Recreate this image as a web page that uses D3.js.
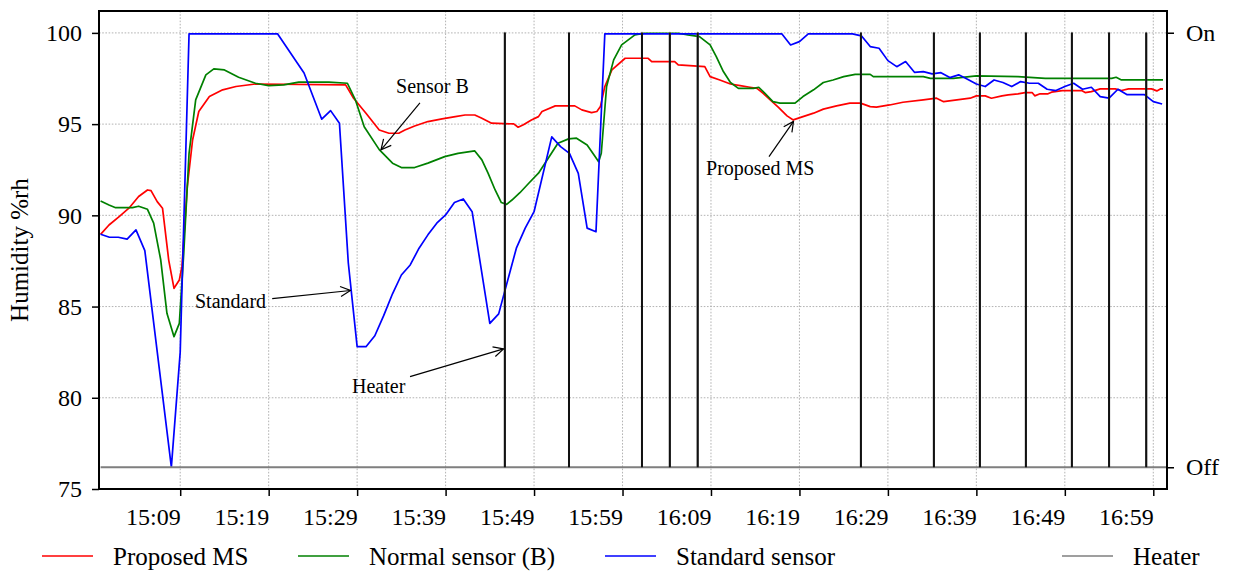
<!DOCTYPE html>
<html>
<head>
<meta charset="utf-8">
<script src="https://cdn.jsdelivr.net/npm/d3@7"></script>
<style>
  html, body { margin: 0; padding: 0; background: #fff; }
  svg { display: block; font-family: "Liberation Serif", "Times New Roman", Times, serif; }
</style>
</head>
<body>
<svg id="chart" width="1234" height="572"></svg>
<script>
// Times are minutes after 15:00; humidity in %rh.
const xTickLabels = ["15:09", "15:19", "15:29", "15:39", "15:49", "15:59", "16:09", "16:19", "16:29", "16:39", "16:49", "16:59"];
const yTickValues = [75, 80, 85, 90, 95, 100];
const heaterStates = ["Off", "On"];
const seriesNames = ["Proposed MS", "Normal sensor (B)", "Standard sensor", "Heater"];

const proposedMS = [
  [0, 88.96], [0.95, 89.47], [2.1, 89.93], [3.2, 90.39], [4.3, 91.03], [5.3, 91.39], [5.7, 91.35], [6.4, 90.75],
  [7.0, 90.39], [7.7, 87.55], [8.3, 86.0], [8.9, 86.46], [9.2, 87.2], [9.8, 91.57], [10.4, 94.13], [11.1, 95.69],
  [12.3, 96.51], [13.8, 96.88], [15.3, 97.06], [17.5, 97.2], [27.7, 97.15], [28.6, 96.42], [30.0, 95.6], [31.5, 94.68],
  [32.6, 94.5], [33.7, 94.5], [34.4, 94.68], [35.5, 94.9], [37.0, 95.14], [38.6, 95.29], [40.1, 95.41], [41.2, 95.5],
  [42.3, 95.5], [43.1, 95.32], [44.2, 95.05], [46.7, 95.01], [47.2, 94.83], [47.8, 94.96], [48.7, 95.23], [49.5, 95.41],
  [49.9, 95.69], [51.4, 96.0], [53.6, 96.0], [54.4, 95.78], [55.5, 95.63], [56.1, 95.69], [56.5, 95.96], [57.0, 97.06],
  [57.8, 97.97], [59.3, 98.61], [61.9, 98.61], [62.3, 98.43], [64.9, 98.43], [65.3, 98.25], [68.3, 98.15], [68.9, 97.6],
  [70.0, 97.42], [71.2, 97.2], [72.3, 97.11], [73.4, 97.02], [74.2, 96.96], [74.9, 96.69], [75.7, 96.33], [76.6, 95.93],
  [77.6, 95.45], [78.3, 95.23], [79.4, 95.41], [80.6, 95.6], [81.7, 95.82], [83.2, 96.0], [84.7, 96.15], [85.9, 96.15],
  [87.0, 95.96], [87.7, 95.93], [89.2, 96.05], [90.7, 96.2], [93.0, 96.33], [94.5, 96.42], [95.3, 96.23], [96.8, 96.33],
  [98.3, 96.42], [99.0, 96.55], [100.0, 96.55], [100.7, 96.42], [101.9, 96.55], [102.6, 96.6], [103.7, 96.66], [104.5, 96.73],
  [105.3, 96.73], [105.6, 96.55], [106.2, 96.66], [107.1, 96.66], [107.5, 96.75], [108.7, 96.84], [110.9, 96.84], [111.3, 96.73],
  [112.0, 96.78], [113.0, 96.93], [114.7, 96.93], [115.4, 96.84], [116.2, 96.93], [118.8, 96.93], [119.4, 96.82], [119.8, 96.93],
  [120.1, 96.93]
];

const normalSensorB = [
  [0, 90.79], [0.95, 90.57], [1.7, 90.42], [3.6, 90.42], [4.3, 90.5], [5.3, 90.33], [6.0, 89.57], [6.8, 87.55],
  [7.5, 84.63], [8.3, 83.35], [8.9, 84.08], [9.4, 87.92], [10.0, 93.4], [10.75, 96.33], [11.9, 97.7], [12.8, 98.03],
  [14.0, 97.97], [15.6, 97.57], [17.5, 97.24], [19.0, 97.11], [20.7, 97.15], [22.4, 97.3], [25.8, 97.3], [27.9, 97.24],
  [28.8, 96.33], [29.8, 94.86], [31.5, 93.6], [33.0, 92.86], [34.0, 92.62], [35.5, 92.62], [37.0, 92.86], [38.9, 93.22],
  [40.4, 93.4], [42.3, 93.53], [43.1, 93.04], [43.8, 92.31], [44.6, 91.39], [45.3, 90.7], [45.9, 90.6], [46.5, 90.84],
  [47.4, 91.24], [48.4, 91.76], [49.5, 92.31], [50.6, 93.13], [51.7, 93.95], [52.9, 94.19], [53.8, 94.23], [55.0, 93.86],
  [55.9, 93.22], [56.3, 92.94], [56.6, 93.4], [57.2, 97.06], [58.0, 98.52], [58.9, 99.34], [60.4, 99.89], [61.5, 99.98],
  [65.3, 99.98], [66.4, 99.89], [67.7, 99.8], [68.9, 99.34], [69.6, 98.7], [70.4, 97.88], [71.2, 97.28], [72.1, 96.96],
  [73.8, 96.96], [74.4, 97.02], [75.1, 96.69], [76.0, 96.23], [76.8, 96.15], [78.5, 96.15], [79.4, 96.51], [80.6, 96.88],
  [81.7, 97.28], [82.8, 97.42], [84.0, 97.6], [85.3, 97.73], [87.0, 97.73], [87.35, 97.6], [93.0, 97.6], [93.8, 97.51],
  [96.4, 97.51], [99.0, 97.64], [103.7, 97.6], [106.8, 97.51], [114.3, 97.51], [114.8, 97.57], [115.4, 97.42], [120.1, 97.42]
];

const standardSensor = [
  [0, 88.96], [1, 88.8], [2, 88.8], [3, 88.7], [4, 89.2], [5, 88.07], [8, 76.2], [9, 82.5], [10, 99.95], [20, 99.95],
  [23, 97.8], [25, 95.27], [26, 95.74], [27, 95.05], [28, 87.4], [29, 82.8], [30, 82.8], [31, 83.4], [32, 84.5], [33, 85.7],
  [34, 86.73], [35, 87.28], [36, 88.2], [37, 88.93], [38, 89.57], [39, 90.02], [40, 90.7], [41, 90.9], [42, 90.2], [44, 84.08],
  [45, 84.6], [47, 88.2], [48, 89.3], [49, 90.2], [51, 94.3], [52, 93.77], [53, 93.4], [54, 92.3], [55, 89.3], [56, 89.1],
  [57, 99.95], [77, 99.95], [78, 99.34], [79, 99.52], [80, 99.95], [85, 99.95], [86, 99.84], [87, 99.25], [88, 99.16], [89, 98.48],
  [90, 98.15], [91, 98.43], [92, 97.84], [93, 97.88], [94, 97.75], [95, 97.82], [96, 97.55], [97, 97.7], [98, 97.46], [99, 97.2],
  [100, 97.06], [101, 97.42], [102, 97.28], [103, 97.06], [104, 97.33], [105, 97.24], [106, 97.24], [107, 96.91], [108, 96.84], [109, 97.06],
  [110, 97.24], [111, 96.91], [112, 97.02], [113, 96.51], [114, 96.42], [115, 96.91], [116, 96.62], [118, 96.62], [119, 96.23], [120, 96.1]
];

// Moments the heater pulse was switched on (minutes after 15:00)
const heaterOnTimes = [45.7, 52.95, 61.2, 64.35, 67.5, 85.95, 94.2, 99.4, 104.6, 109.8, 114.0, 118.2];
const heaterSpan = [0, 120.5];

// Annotation callouts: label, text anchor (time, %rh), arrow tail, arrow head
const callouts = [
  { label: "Sensor B",    text: [33.4, 96.68], tail: [36.1, 96.16], head: [31.7, 93.59] },
  { label: "Standard",    text: [10.67, 84.92], tail: [19.4, 85.44], head: [28.25, 85.88] },
  { label: "Heater",      text: [28.42, 80.26], tail: [34.98, 81.16], head: [45.55, 82.68] },
  { label: "Proposed MS", text: [68.44, 92.21], tail: [75.56, 93.22], head: [78.33, 95.15] }
];

// ---- layout ----
const plot = { left: 99, right: 1167, top: 11, bottom: 489 };
const colors = ["#ff0000", "#008000", "#0000ff", "#7f7f7f"];

const svg = d3.select("#chart");

const x = d3.scaleLinear().domain([-0.18, 120.55]).range([plot.left, plot.right]);
const y = d3.scaleLinear().domain([75, 101.2]).range([plot.bottom, plot.top]);
const yHeater = d3.scaleLinear().domain([-0.05, 1.05]).range([plot.bottom, plot.top]);

const tickMinutes = xTickLabels.map(s => {
  const [h, m] = s.split(":").map(Number);
  return (h - 15) * 60 + m;
});

// grid
const grid = svg.append("g").attr("stroke", "#a0a0a0").attr("stroke-width", 0.8).attr("stroke-dasharray", "1.6,1.6");
grid.selectAll("line.v").data(tickMinutes).join("line")
  .attr("x1", d => x(d)).attr("x2", d => x(d))
  .attr("y1", plot.top).attr("y2", plot.bottom);
grid.selectAll("line.h").data(yTickValues.filter(v => v > 75)).join("line")
  .attr("x1", plot.left).attr("x2", plot.right)
  .attr("y1", d => y(d)).attr("y2", d => y(d));

// series
const line = d3.line().x(d => x(d[0])).y(d => y(d[1]));
svg.append("clipPath").attr("id", "clip").append("rect")
  .attr("x", plot.left).attr("y", plot.top).attr("width", plot.right - plot.left).attr("height", plot.bottom - plot.top);

const lines = svg.append("g").attr("clip-path", "url(#clip)").attr("fill", "none")
  .attr("stroke-width", 1.7).attr("stroke-linejoin", "round");
[proposedMS, normalSensorB, standardSensor].forEach((s, i) => {
  lines.append("path").datum(s).attr("d", line).attr("stroke", colors[i]);
});

// heater state as an on/off trace on the secondary axis
const heaterSeries = [[heaterSpan[0], 0]];
heaterOnTimes.forEach(t => { heaterSeries.push([t, 0], [t, 1], [t, 0]); });
heaterSeries.push([heaterSpan[1], 0]);
const heaterLine = d3.line().x(d => x(d[0])).y(d => yHeater(d[1]));
lines.append("path").datum(heaterSeries).attr("d", heaterLine)
  .attr("stroke", colors[3]).attr("stroke-width", 2);
lines.selectAll("line.pulse").data(heaterOnTimes).join("line")
  .attr("x1", d => x(d)).attr("x2", d => x(d))
  .attr("y1", yHeater(0)).attr("y2", yHeater(1))
  .attr("stroke", "#111").attr("stroke-width", 2);

// axes
const fontTick = 24;
const yAxis = svg.append("g").attr("transform", `translate(${plot.left},0)`)
  .call(d3.axisLeft(y).tickValues(yTickValues).tickSize(7).tickPadding(10));
const xAxis = svg.append("g").attr("transform", `translate(0,${plot.bottom})`)
  .call(d3.axisBottom(x).tickValues(tickMinutes).tickFormat((d, i) => xTickLabels[i]).tickSize(7).tickPadding(12));
const rAxis = svg.append("g").attr("transform", `translate(${plot.right},0)`)
  .call(d3.axisRight(yHeater).tickValues([0, 1]).tickFormat(d => heaterStates[d]).tickSize(7).tickPadding(12));
[yAxis, xAxis, rAxis].forEach(g => {
  g.select(".domain").remove();
  g.selectAll(".tick line").attr("stroke", "#000").attr("stroke-width", 1.5);
  g.selectAll(".tick text").attr("fill", "#000")
    .style("font-family", "'Liberation Serif', 'Times New Roman', serif").style("font-size", fontTick + "px");
});
// time labels sit to the left of their tick
xAxis.selectAll(".tick text").attr("text-anchor", "end");

// frame
svg.append("rect").attr("x", plot.left).attr("y", plot.top)
  .attr("width", plot.right - plot.left).attr("height", plot.bottom - plot.top)
  .attr("fill", "none").attr("stroke", "#000").attr("stroke-width", 2);

// y label
svg.append("text")
  .attr("transform", `translate(28,${(plot.top + plot.bottom) / 2}) rotate(-90)`)
  .attr("text-anchor", "middle").style("font-size", "25px").text("Humidity %rh");

// callouts
svg.append("defs").append("marker")
  .attr("id", "arrow").attr("viewBox", "0 0 12 12").attr("refX", 11).attr("refY", 6)
  .attr("markerWidth", 12).attr("markerHeight", 12).attr("markerUnits", "userSpaceOnUse").attr("orient", "auto")
  .append("path").attr("d", "M1,1 L11,6 L1,11").attr("fill", "none").attr("stroke", "#000").attr("stroke-width", 1.2);

const ann = svg.append("g");
callouts.forEach(c => {
  ann.append("line")
    .attr("x1", x(c.tail[0])).attr("y1", y(c.tail[1]))
    .attr("x2", x(c.head[0])).attr("y2", y(c.head[1]))
    .attr("stroke", "#000").attr("stroke-width", 1.2).attr("marker-end", "url(#arrow)");
  ann.append("text").attr("x", x(c.text[0])).attr("y", y(c.text[1]))
    .style("font-size", "20px").text(c.label);
});

// legend
const legendX = [42, 298, 605, 1062];
const legend = svg.append("g");
seriesNames.forEach((name, i) => {
  legend.append("line").attr("x1", legendX[i]).attr("x2", legendX[i] + 51)
    .attr("y1", 556).attr("y2", 556).attr("stroke", colors[i]).attr("stroke-width", 1.7);
  legend.append("text").attr("x", legendX[i] + 71).attr("y", 565)
    .style("font-size", "25px").text(name);
});
</script>
</body>
</html>
